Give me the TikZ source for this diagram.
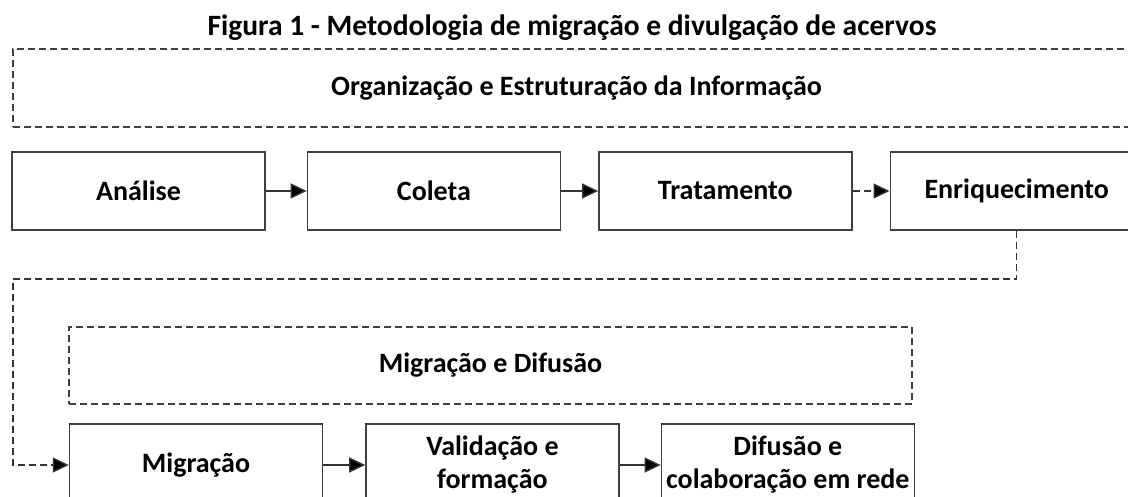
\documentclass[tikz,border=0pt]{standalone}
\usepackage{fontspec}
\setmainfont{Carlito}
\usetikzlibrary{arrows.meta}
\usetikzlibrary{positioning}

\begin{document}
\begin{tikzpicture}[x=1pt,y=-1pt,font=\bfseries\fontsize{28}{33}\selectfont,
	stepbox/.style={draw=black!75,line width=1.4pt,minimum width=253pt,minimum height=78pt,inner sep=0pt,align=center},
	groupbox/.style={draw=black!75,line width=1.2pt,dash pattern=on 7pt off 4pt,inner sep=0pt},
	flow/.style={draw=black!80,line width=1.4pt,-{Triangle[length=16pt,width=15pt,fill=black]}},
	dashflow/.style={flow,dash pattern=on 7pt off 4pt}]
	
	\useasboundingbox (0,0) rectangle (1128,497);
	\clip (0,0) rectangle (1128,497);
	
	\node[font=\bfseries\fontsize{29.5}{33}\selectfont] (titulo) at (572,28) {Figura 1 - Metodologia de migração e divulgação de acervos};
	
	% primeira etapa
	\node[groupbox,minimum width=1127pt,minimum height=78pt] (organizacao) at (576.5,88) {Organização e Estruturação da Informação};
	\node[stepbox] (analise) at (138.5,191) {Análise};
	\node[stepbox,right=41pt of analise] (coleta) {Coleta};
	\node[stepbox,right=37pt of coleta] (tratamento) {Tratamento};
	\node[stepbox,right=37pt of tratamento] (enriquecimento) {Enriquecimento};
	
	% segunda etapa
	\node[groupbox,minimum width=843pt,minimum height=77pt] (difusaogrupo) at (490.5,365.5) {Migração e Difusão};
	\node[stepbox,minimum height=82pt] (migracao) at (196,465) {Migração};
	\node[stepbox,minimum height=82pt,right=42pt of migracao] (validacao) {Validação e\\formação};
	\node[stepbox,minimum height=82pt,right=41pt of validacao] (difusao) {Difusão e\\colaboração em rede};
	
	\coordinate (dobra) at (13,279);
	
	\draw[flow] (analise) -- (coleta);
	\draw[flow] (coleta) -- (tratamento);
	\draw[dashflow] (tratamento) -- (enriquecimento);
	\draw[dashflow] (enriquecimento.south) |- (dobra) |- (migracao.west);
	\draw[flow] (migracao) -- (validacao);
	\draw[flow] (validacao) -- (difusao);
\end{tikzpicture}
\end{document}
